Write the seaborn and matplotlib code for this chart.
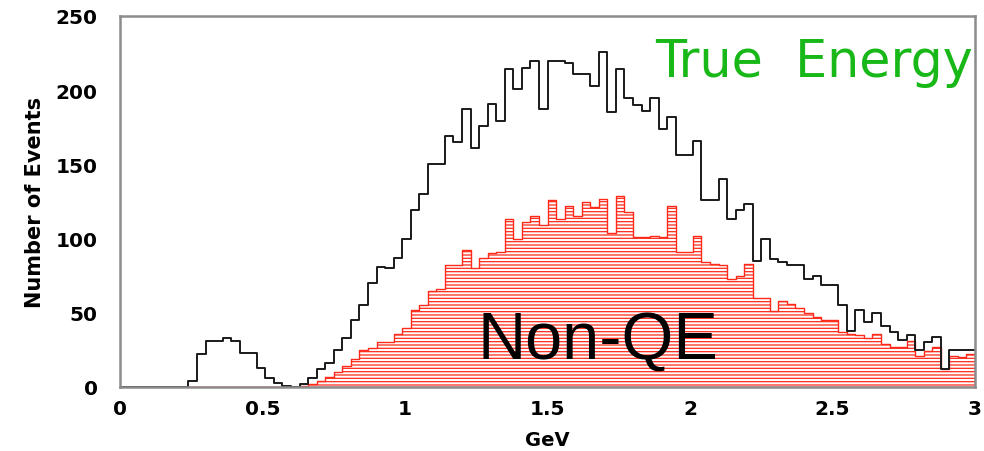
import numpy as np
import pandas as pd
import matplotlib
matplotlib.use("Agg")
import matplotlib.pyplot as plt
import seaborn as sns
from matplotlib.ticker import MultipleLocator, FuncFormatter

# ---------------- data ----------------
bin_width_gev = 0.03
n_bins = 100

total_events = [
    0, 0, 0, 0, 0, 0, 0, 0, 4, 22,
    31, 31, 33, 31, 23, 23, 13, 6, 3, 1,
    0, 2, 6, 12, 16, 25, 33, 45, 55, 70,
    81, 80, 87, 100, 119, 130, 150, 150, 169, 165,
    187, 161, 176, 191, 179, 214, 201, 215, 220, 187,
    220, 220, 218, 211, 211, 203, 226, 185, 214, 195,
    190, 186, 195, 174, 182, 156, 156, 166, 126, 126,
    140, 113, 119, 123, 85, 100, 86, 84, 82, 82,
    73, 75, 69, 69, 55, 38, 52, 44, 50, 41,
    37, 32, 35, 25, 30, 34, 12, 25, 25, 25,
]

nonqe_events = [
    0, 0, 0, 0, 0, 0, 0, 0, 0, 0,
    0, 0, 0, 0, 0, 0, 0, 0, 0, 0,
    0, 1, 2, 4, 7, 10, 14, 19, 25, 26,
    30, 30, 36, 40, 52, 55, 65, 66, 82, 82,
    92, 80, 87, 90, 91, 113, 100, 111, 115, 109,
    126, 113, 122, 115, 125, 121, 127, 104, 129, 118,
    101, 101, 102, 101, 122, 91, 91, 102, 84, 83,
    82, 73, 75, 83, 60, 60, 51, 58, 56, 53,
    50, 47, 45, 45, 37, 36, 35, 33, 36, 29,
    27, 27, 31, 21, 24, 27, 12, 21, 20, 22,
]

x_tick_values = [0, 0.5, 1, 1.5, 2, 2.5, 3]
y_tick_values = [0, 50, 100, 150, 200, 250]

title_text = "True  Energy"
overlay_text = "Non-QE"
x_label = "GeV"
y_label = "Number of Events"

# ---------------- build table ----------------
bin_edges = [round(i * bin_width_gev, 4) for i in range(n_bins + 1)]
bin_centers = [(bin_edges[i] + bin_edges[i + 1]) / 2 for i in range(n_bins)]
df = pd.DataFrame({
    "energy": bin_centers,
    "total": total_events,
    "nonqe": nonqe_events,
})

# ---------------- style ----------------
sns.set_theme(style="white")
plt.rcParams["font.family"] = ["DejaVu Sans"]
plt.rcParams["hatch.color"] = "#ff2a1a"
plt.rcParams["hatch.linewidth"] = 0.9

fig = plt.figure(figsize=(9.84, 4.52), dpi=100)
ax = fig.add_axes([120 / 984, 1 - 388 / 452, 855 / 984, 371 / 452])

# total (black outline)
sns.histplot(data=df, x="energy", weights="total", bins=bin_edges,
             element="step", fill=False, color="#1a1a1a", linewidth=1.4,
             ax=ax)

# non-QE (red hatched)
sns.histplot(data=df, x="energy", weights="nonqe", bins=bin_edges,
             element="step", fill=True, color="red", facecolor="white",
             edgecolor="#ff2a1a", hatch="-----", linewidth=1.0, alpha=1,
             ax=ax)

ax.set_xlim(0, 3)
ax.set_ylim(0, 250)

ax.xaxis.set_major_locator(MultipleLocator(0.5))
ax.xaxis.set_minor_locator(MultipleLocator(0.1))
ax.yaxis.set_major_locator(MultipleLocator(50))
ax.yaxis.set_minor_locator(MultipleLocator(10))
ax.set_xticks(x_tick_values)
ax.set_yticks(y_tick_values)
ax.xaxis.set_major_formatter(FuncFormatter(lambda v, p: f"{v:g}"))

ax.tick_params(axis="both", which="both", direction="in", colors="#555555",
               labelcolor="black", labelsize=14.5)
ax.tick_params(axis="x", which="major", length=12, width=1.3, pad=9)
ax.tick_params(axis="x", which="minor", length=6, width=1.0)
ax.tick_params(axis="y", which="major", length=18, width=1.3, pad=16)
ax.tick_params(axis="y", which="minor", length=10, width=1.0)
for lab in ax.get_xticklabels() + ax.get_yticklabels():
    lab.set_fontweight("bold")
    lab.set_color("black")

for s in ax.spines.values():
    s.set_visible(True)
    s.set_color("#8c8c8c")
    s.set_linewidth(1.8)

ax.set_xlabel(x_label, fontsize=14, fontweight="bold", color="black")
ax.set_ylabel(y_label, fontsize=15, fontweight="bold", color="black")
ax.xaxis.set_label_coords(0.5, -0.115)
ax.yaxis.set_label_coords(-0.088, 0.5)

ax.text(1.877, 209.6, title_text, color="#17b817", fontsize=36.5,
        ha="left", va="baseline", zorder=5)
ax.text(1.256, 20, overlay_text, color="black", fontsize=48,
        family=["Liberation Sans", "DejaVu Sans"],
        ha="left", va="baseline", zorder=5)

fig.savefig("out.png", dpi=100)
